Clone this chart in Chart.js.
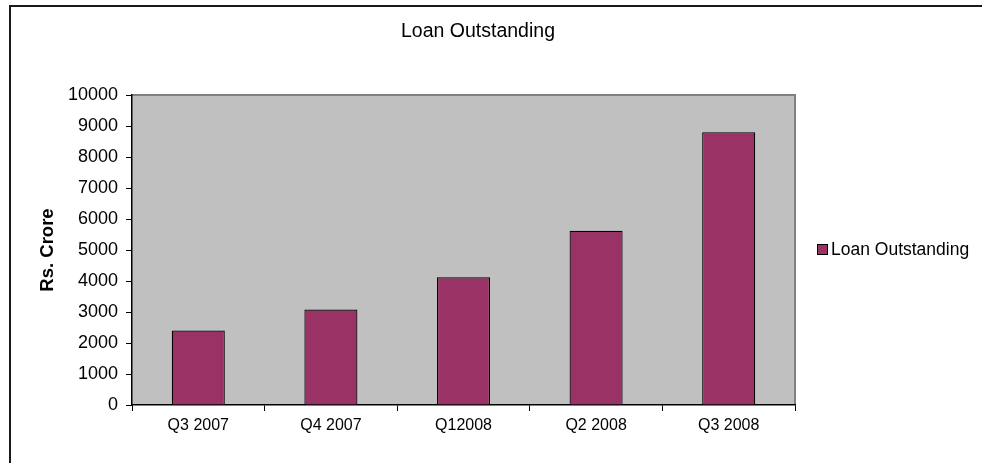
<!DOCTYPE html>
<html>
<head>
<meta charset="utf-8">
<script src="https://cdn.jsdelivr.net/npm/chart.js@4.4.0/dist/chart.umd.min.js"></script>
<style>
  html, body { margin: 0; padding: 0; background: #ffffff; }
  #wrap { width: 982px; height: 463px; position: relative; }
</style>
</head>
<body>
<div id="wrap"><canvas id="c" width="982" height="463"></canvas></div>
<script>
const categories = ["Q3 2007", "Q4 2007", "Q12008", "Q2 2008", "Q3 2008"];
const loanOutstanding = [2400, 3080, 4120, 5620, 8800];
const seriesName = "Loan Outstanding";
const chartTitle = "Loan Outstanding";
const yAxisTitle = "Rs. Crore";

const FONT = "'Liberation Sans', Arial, sans-serif";
const BAR = "#993366";

const backgroundPlugin = {
  id: 'bgPlot',
  beforeDraw(chart) {
    const ctx = chart.ctx, a = chart.chartArea;
    ctx.save();
    ctx.fillStyle = '#ffffff';
    ctx.fillRect(0, 0, chart.width, chart.height);
    // outer border
    ctx.strokeStyle = '#1a1a1a';
    ctx.lineWidth = 2;
    ctx.strokeRect(10, 6, chart.width + 20, chart.height + 20);
    // plot area
    ctx.fillStyle = '#c0c0c0';
    ctx.fillRect(a.left, a.top, a.right - a.left, a.bottom - a.top);
    ctx.strokeStyle = '#808080';
    ctx.lineWidth = 2;
    ctx.beginPath();
    ctx.moveTo(a.left, a.top);
    ctx.lineTo(a.right, a.top);
    ctx.lineTo(a.right, a.bottom);
    ctx.stroke();
    ctx.restore();
  }
};

const titleLegendPlugin = {
  id: 'titleLegend',
  afterDraw(chart) {
    const ctx = chart.ctx, a = chart.chartArea;
    const ds = chart.data.datasets[0];
    ctx.save();
    // chart title
    ctx.fillStyle = '#000';
    ctx.font = '19.5px ' + FONT;
    ctx.textAlign = 'center';
    ctx.textBaseline = 'middle';
    ctx.fillText(chartTitle, 478, 32);
    // legend (clipped at the right like the reference)
    const cy = (a.top + a.bottom) / 2;
    const x0 = a.right + 22;
    ctx.beginPath();
    ctx.rect(0, 0, 970, chart.height);
    ctx.clip();
    ctx.fillStyle = ds.backgroundColor;
    ctx.fillRect(x0, cy - 6, 10, 10);
    ctx.strokeStyle = '#000';
    ctx.lineWidth = 1;
    ctx.strokeRect(x0 + 0.5, cy - 5.5, 10, 10);
    ctx.fillStyle = '#000';
    ctx.font = '17.5px ' + FONT;
    ctx.textBaseline = 'middle';
    ctx.textAlign = 'left';
    ctx.fillText(ds.label, x0 + 14, cy);
    ctx.restore();
  }
};

new Chart(document.getElementById('c'), {
  type: 'bar',
  data: {
    labels: categories,
    datasets: [{
      label: seriesName,
      data: loanOutstanding,
      backgroundColor: BAR,
      borderColor: '#000000',
      borderWidth: 1.2,
      borderSkipped: 'bottom',
      barPercentage: 0.4,
      categoryPercentage: 1.0
    }]
  },
  options: {
    responsive: false,
    animation: false,
    devicePixelRatio: 1,
    layout: { padding: { top: 95, left: 9, right: 187, bottom: 0 } },
    plugins: {
      legend: { display: false },
      tooltip: { enabled: false },
      title: { display: false }
    },
    scales: {
      x: {
        offset: true,
        grid: { display: true, offset: true, drawOnChartArea: false, drawTicks: true, tickLength: 6, color: '#000', lineWidth: 1 },
        border: { display: true, color: '#000', width: 1.5 },
        ticks: { color: '#000', font: { family: FONT, size: 16 }, padding: 5, maxRotation: 0, autoSkip: false },
        afterFit(s) { s.height = 58; }
      },
      y: {
        min: 0, max: 10000,
        ticks: { stepSize: 1000, color: '#000', font: { family: FONT, size: 18 }, padding: 8,
                 callback: (v) => String(v) },
        grid: { display: true, drawOnChartArea: false, drawTicks: true, tickLength: 6, color: '#000', lineWidth: 1 },
        border: { display: true, color: '#000', width: 1.5 },
        title: { display: true, text: yAxisTitle, color: '#000', font: { family: FONT, size: 18.5, weight: 'bold' }, padding: { top: 28, bottom: 0 } },
        afterFit(s) { s.width = 123; }
      }
    }
  },
  plugins: [backgroundPlugin, titleLegendPlugin]
});
</script>
</body>
</html>
